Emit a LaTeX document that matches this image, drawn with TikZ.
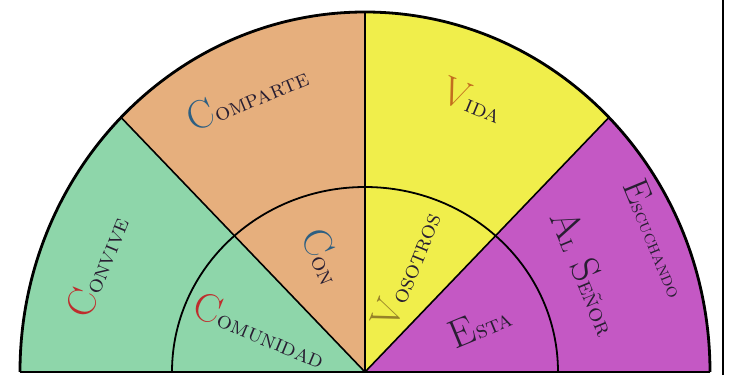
\documentclass[tikz,border=0pt]{standalone}
\usepackage{xcolor}
\usepackage{tikz}
\definecolor{menta}{RGB}{142,214,170}
\definecolor{arena}{RGB}{230,175,125}
\definecolor{limon}{RGB}{240,238,75}
\definecolor{malva}{RGB}{196,88,196}
\definecolor{rojo}{RGB}{190,45,45}
\definecolor{azul}{RGB}{45,95,130}
\definecolor{ocre}{RGB}{195,110,30}
\definecolor{oliva}{RGB}{150,130,40}
\definecolor{tinta}{RGB}{40,30,50}
\newcommand{\letra}[4][40]{%
  {\fontsize{#1}{#1}\selectfont\color{#2}#3}\textsc{#4}}
\newcommand{\sector}[3]{%
  \fill[#1] (0,0) -- (#2:345pt and 360pt)
    arc[start angle=#2,end angle=#3,x radius=345pt,y radius=360pt] -- cycle;}

\begin{document}
\begin{tikzpicture}[x=1pt,y=1pt,
  rotulo/.style={font=\fontsize{24}{24}\selectfont,text=tinta,inner sep=0pt}]
  \useasboundingbox (-365,-3) rectangle (365,372);
  \sector{menta}{180}{135}
  \sector{arena}{135}{90}
  \sector{limon}{90}{45}
  \sector{malva}{45}{0}
  \coordinate (O) at (0,0);
  \coordinate (izq) at (180:345pt and 360pt);
  \coordinate (der) at (0:345pt and 360pt);
  \coordinate (izqint) at (180:193pt and 185pt);
  \foreach \a/\n in {135/a,90/b,45/c}
    {\coordinate (r\n) at (\a:345pt and 360pt);}
  \draw[line width=1.8pt] (izqint)
    arc[start angle=180,end angle=0,x radius=193pt,y radius=185pt];
  \foreach \n in {a,b,c}
    {\draw[line width=1.6pt] (O) -- (r\n);}
  \draw[line width=2.8pt] (izq)
    arc[start angle=180,end angle=0,x radius=345pt,y radius=360pt];
  \draw[line width=2.8pt] (izq) -- (der);
  \coordinate (marcoa) at (358,-3);
  \coordinate (marcob) at (358,372);
  \draw[line width=1.2pt] (marcoa) -- (marcob);
  % anillo exterior
  \node[rotulo,rotate=67.5] (convive) at (-268,106) {\letra{rojo}{C}{onvive}};
  \node[rotulo,rotate=22.5] (comparte) at (-118,276) {\letra{azul}{C}{omparte}};
  \node[rotulo,rotate=-22.5] (vida) at (108,272) {\letra{ocre}{V}{ida}};
  \node[rotulo,rotate=-67.5,font=\fontsize{19}{19}\selectfont] (escuchando) at (292,134)
    {\letra[36]{tinta}{E}{scuchando}};
  \node[rotulo,rotate=-67.5] (senor) at (222,100)
    {\letra{tinta}{A}{l}\hspace{12pt}\letra{tinta}{S}{eñor}};
  % anillo interior
  \node[rotulo,rotate=-67.5] (con) at (-41,116) {\letra{azul}{C}{on}};
  \node[rotulo,rotate=-22.5] (comunidad) at (-104,42) {\letra{rojo}{C}{omunidad}};
  \node[rotulo,rotate=67.5] (vosotros) at (41,103) {\letra{oliva}{V}{osotros}};
  \node[rotulo,rotate=22.5] (esta) at (115,47) {\letra{tinta}{E}{sta}};
\end{tikzpicture}
\end{document}
